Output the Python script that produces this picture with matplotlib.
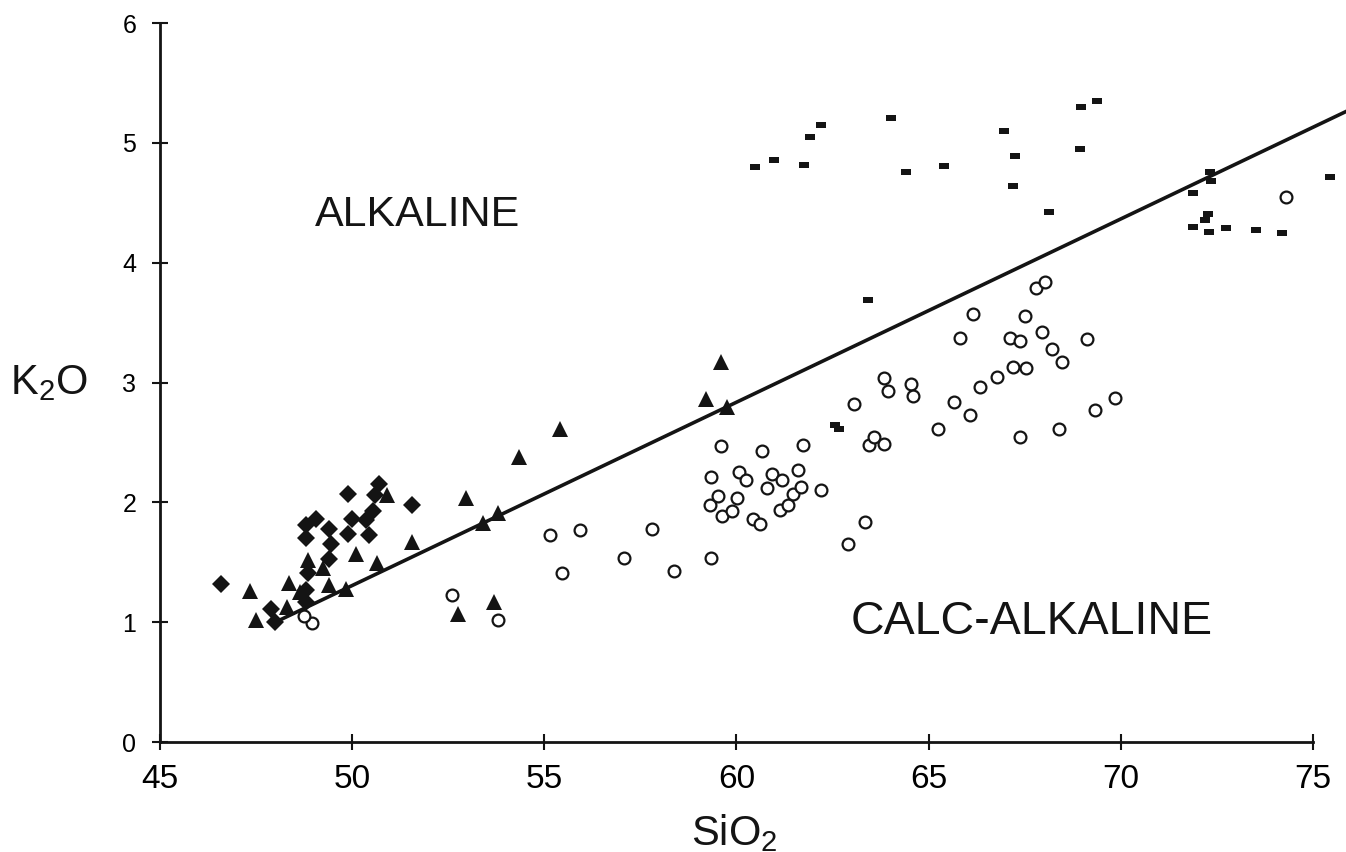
import numpy as np
import matplotlib.pyplot as plt
from matplotlib.path import Path

plt.rcParams['font.family'] = ['Liberation Sans', 'DejaVu Sans']
plt.rcParams['mathtext.fontset'] = 'custom'
plt.rcParams['mathtext.rm'] = 'Liberation Sans'

# filled diamonds
dia_x = [46.6, 47.9, 48.0, 49.9, 49.05, 48.8, 48.8, 49.4, 49.45, 49.4, 50.0,
         49.9, 50.35, 50.45, 50.55, 50.6, 50.7, 51.55, 48.85, 48.8, 48.8]
dia_y = [1.32, 1.11, 1.00, 2.07, 1.86, 1.81, 1.70, 1.78, 1.65, 1.53, 1.86,
         1.74, 1.85, 1.73, 1.93, 2.06, 2.15, 1.98, 1.41, 1.27, 1.17]

# filled triangles
tri_x = [47.35, 47.5, 48.3, 48.35, 48.65, 48.85, 49.25, 49.4, 49.85, 50.1,
         50.65, 50.9, 51.55, 52.95, 53.4, 53.8, 54.35, 52.75, 53.7, 55.4,
         59.2, 59.6, 59.75]
tri_y = [1.26, 1.02, 1.13, 1.33, 1.25, 1.52, 1.45, 1.31, 1.28, 1.57,
         1.49, 2.06, 1.67, 2.04, 1.83, 1.91, 2.38, 1.07, 1.17, 2.61,
         2.86, 3.17, 2.80]

# open circles
cir_x = [48.95, 48.75, 52.6, 53.8, 55.15, 55.46, 55.93, 57.08, 57.8, 58.37,
         59.34, 59.3, 59.34, 59.51, 59.6, 59.63, 59.89, 60.01, 60.07, 60.25,
         60.44, 60.61, 60.66, 60.79, 60.93, 61.19, 61.14, 61.35, 61.47, 61.59,
         61.68, 61.73, 62.19, 62.89, 63.06, 63.34, 63.45, 63.59, 63.85, 63.95,
         63.84, 64.55, 64.6, 65.25, 65.66, 65.81, 66.07, 66.16, 66.35, 66.77,
         67.11, 67.19, 67.38, 67.51, 67.53, 67.39, 67.79, 67.94, 68.02, 68.22,
         68.47, 68.4, 69.11, 69.32, 69.85, 74.3]
cir_y = [0.99, 1.05, 1.23, 1.02, 1.73, 1.41, 1.77, 1.54, 1.78, 1.43,
         1.54, 1.98, 2.21, 2.05, 2.47, 1.89, 1.93, 2.04, 2.25, 2.19,
         1.86, 1.82, 2.43, 2.12, 2.24, 2.19, 1.94, 1.98, 2.07, 2.27,
         2.13, 2.48, 2.10, 1.65, 2.82, 1.84, 2.48, 2.55, 3.04, 2.93,
         2.49, 2.99, 2.89, 2.61, 2.84, 3.37, 2.73, 3.57, 2.96, 3.05,
         3.37, 3.13, 3.35, 3.56, 3.12, 2.55, 3.79, 3.42, 3.84, 3.28,
         3.17, 2.61, 3.36, 2.77, 2.87, 4.55]

# small filled rectangles
rec_x = [60.47, 60.99, 61.75, 61.92, 62.19, 64.01, 64.42, 65.39, 66.97, 67.24,
         67.2, 68.14, 68.94, 68.96, 69.38, 63.43, 62.57, 62.68, 71.88, 72.33,
         72.35, 72.28, 72.2, 71.88, 72.3, 72.74, 73.52, 74.2, 75.45]
rec_y = [4.80, 4.86, 4.82, 5.05, 5.15, 5.21, 4.76, 4.81, 5.10, 4.89,
         4.64, 4.42, 4.95, 5.30, 5.35, 3.69, 2.65, 2.61, 4.58, 4.76,
         4.68, 4.41, 4.36, 4.30, 4.26, 4.29, 4.27, 4.25, 4.72]

# dividing line
line_x = [48.0, 77.0]
line_y = [1.0, 1.0 + 0.153 * 29.0]

ink = '#141414'
rect_marker = Path([(-1, -0.6), (1, -0.6), (1, 0.6), (-1, 0.6), (-1, -0.6)],
                   [Path.MOVETO, Path.LINETO, Path.LINETO, Path.LINETO, Path.CLOSEPOLY])

fig = plt.figure(figsize=(13.46, 8.52), dpi=100)
ax = fig.add_axes([160 / 1346, 110 / 852, 1186 / 1346, 742 / 852])

ax.plot(line_x, line_y, '-', color=ink, lw=2.6, zorder=2)
ax.plot(dia_x, dia_y, 'D', color=ink, ms=9, mew=0, zorder=3)
ax.plot(tri_x, tri_y, '^', color=ink, ms=11, mew=0, zorder=3)
ax.plot(cir_x, cir_y, 'o', mfc='white', mec=ink, ms=8.5, mew=1.6, zorder=3)
ax.plot(rec_x, rec_y, linestyle='none', marker=rect_marker, color=ink, ms=6.5, mew=0, zorder=3)

ax.set_xlim(45, 45 + 1186 / 38.43)
ax.set_ylim(0, 742 / 119.8)
ax.spines['top'].set_visible(False)
ax.spines['right'].set_visible(False)
ax.spines['left'].set_bounds(0, 6)
ax.spines['bottom'].set_bounds(45, 75)
for s in ['left', 'bottom']:
    ax.spines[s].set_linewidth(2.0)
    ax.spines[s].set_color(ink)

ax.set_xticks(np.arange(45, 76, 5))
ax.set_yticks(np.arange(0, 7, 1))
ax.tick_params(axis='both', direction='inout', length=12, width=1.5, color=ink)
ax.tick_params(axis='x', labelsize=24, pad=10)
ax.tick_params(axis='y', labelsize=18, pad=11)

ax.text(49.03, 4.40, 'ALKALINE', fontsize=31, ha='left', va='center', color=ink)
ax.text(72.4, 1.0, 'CALC-ALKALINE', fontsize=33.5, ha='right', va='center', color=ink)

fig.text(10 / 1346, 1 - 383 / 852, r'K$_\mathregular{2}$O', fontsize=30,
         ha='left', va='center', color=ink)
fig.text(734 / 1346, 1 - 833 / 852, r'SiO$_\mathregular{2}$', fontsize=30,
         ha='center', va='center', color=ink)

fig.savefig('out.png', dpi=100)
